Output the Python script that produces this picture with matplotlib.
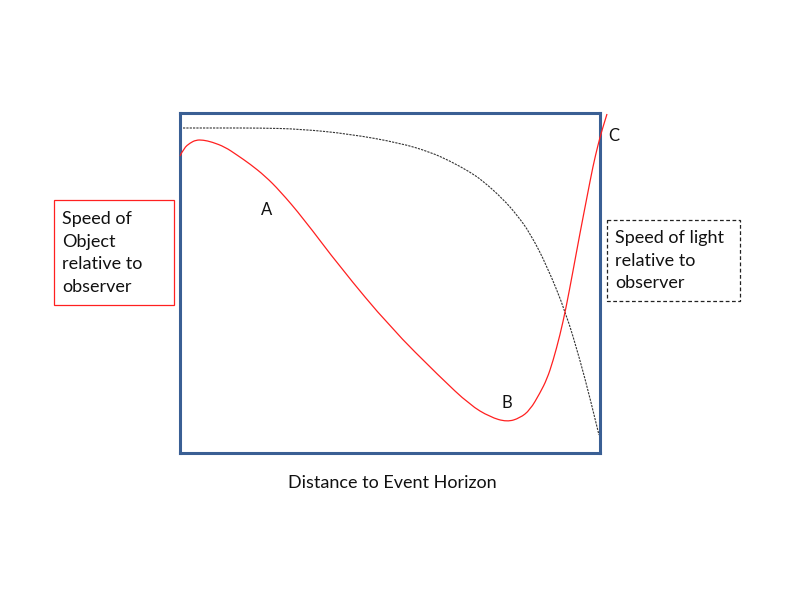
import matplotlib.pyplot as plt
from matplotlib.patches import Rectangle, PathPatch
from matplotlib.path import Path

plt.rcParams['font.family'] = ['Lato', 'DejaVu Sans']

# values (distance, speed), arbitrary units
obj_dist = [0, 4, 10, 16, 23, 32, 45, 57, 70, 85, 100, 123, 160, 210, 260,
            290, 310, 327, 340, 350, 360, 367, 373, 380, 386, 393, 400, 407,
            413, 418, 422, 427]
obj_speed = [297, 305, 310, 313, 313, 311, 306, 298, 289, 277, 262, 235,
             186, 126, 76, 48, 36, 31, 35, 43, 60, 74, 92, 118, 145, 182,
             220, 256, 287, 308, 323, 339]

light_dist = [3, 40, 80, 120, 170, 220, 250, 270, 290, 303, 323, 337, 350,
              367, 386, 400, 410, 419]
light_speed = [325, 325, 325, 324, 319, 310, 301, 292, 281, 272, 254, 238,
               220, 187, 140, 93, 55, 18]

labels = ['A', 'B', 'C']


def smooth_path(xs, ys):
    # quadratic bezier through midpoints, read points act as control points
    pts = list(zip(xs, ys))
    verts = [pts[0]]
    codes = [Path.MOVETO]
    for i in range(1, len(pts) - 2):
        mid = ((pts[i][0] + pts[i + 1][0]) / 2, (pts[i][1] + pts[i + 1][1]) / 2)
        verts += [pts[i], mid]
        codes += [Path.CURVE3, Path.CURVE3]
    verts += [pts[-2], pts[-1]]
    codes += [Path.CURVE3, Path.CURVE3]
    return Path(verts, codes)


fig = plt.figure(figsize=(8, 6), dpi=100)

# overlay in pixel units for the annotations
bg = fig.add_axes([0, 0, 1, 1])
bg.set_xlim(0, 800)
bg.set_ylim(600, 0)
bg.axis('off')

ax = fig.add_axes([180 / 800, 1 - 453 / 600, 420 / 800, 340 / 600])
ax.patch.set_alpha(0)
ax.set_xlim(0, 420)
ax.set_ylim(0, 340)
ax.set_xticks([])
ax.set_yticks([])
for s in ax.spines.values():
    s.set_color('#3A5F94')
    s.set_linewidth(2.2)

ax.add_patch(PathPatch(smooth_path(obj_dist, obj_speed), fill=False,
                       edgecolor='#FF2020', lw=0.9, clip_on=False, zorder=3))
ax.add_patch(PathPatch(smooth_path(light_dist, light_speed), fill=False,
                       edgecolor='#333333', lw=0.8, linestyle=(0, (2, 1)),
                       zorder=2))

for lab, (x, y) in zip(labels, [(267, 210), (507, 403), (614, 136)]):
    bg.text(x, y, lab, fontsize=12, ha='center', va='center', color='#111111')

# left text box
bg.add_patch(Rectangle((54, 200), 120, 105, fill=False, edgecolor='#FF2020',
                       lw=0.9))
bg.text(62, 253, 'Speed of\nObject\nrelative to\nobserver', fontsize=13,
        ha='left', va='center', linespacing=1.5, color='#111111')

# right text box
bg.add_patch(Rectangle((607, 220), 133, 81, fill=False, edgecolor='#222222',
                       lw=0.9, linestyle=(0, (3, 2))))
bg.text(615, 261, 'Speed of light\nrelative to\nobserver', fontsize=13,
        ha='left', va='center', linespacing=1.5, color='#111111')

bg.text(392, 483, 'Distance to Event Horizon', fontsize=13, ha='center',
        va='center', color='#111111')

fig.savefig('out.png', dpi=100)
